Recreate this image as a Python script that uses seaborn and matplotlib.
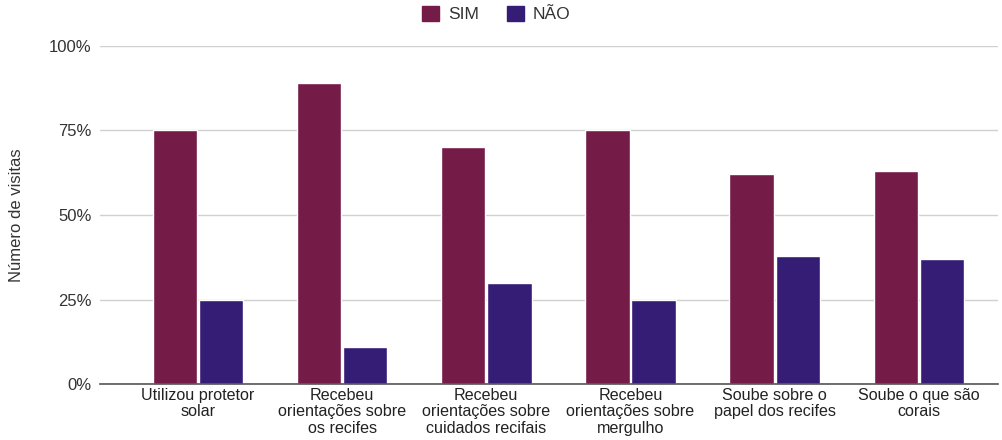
import matplotlib
matplotlib.use("Agg")
import matplotlib.pyplot as plt
import seaborn as sns
import pandas as pd
from matplotlib.ticker import PercentFormatter
from matplotlib.patches import Patch

categories = [
    "Utilizou protetor\nsolar",
    "Recebeu\norientações sobre\nos recifes",
    "Recebeu\norientações sobre\ncuidados recifais",
    "Recebeu\norientações sobre\nmergulho",
    "Soube sobre o\npapel dos recifes",
    "Soube o que são\ncorais",
]
sim = [75, 89, 70, 75, 62, 63]
nao = [25, 11, 30, 25, 38, 37]
series = ["SIM", "NÃO"]
colors = ["#741b47", "#351c75"]

df = pd.DataFrame({
    "categoria": categories * 2,
    "resposta": [series[0]] * len(categories) + [series[1]] * len(categories),
    "valor": [v / 100 for v in sim + nao],
})

sns.set_theme(style="white")
plt.rcParams["font.family"] = ["Liberation Sans", "DejaVu Sans"]

fig = plt.figure(figsize=(10.03, 4.4), dpi=100)
ax = fig.add_axes([100 / 1003, 56 / 440, 898 / 1003, 338 / 440])

sns.barplot(data=df, x="categoria", y="valor", hue="resposta",
            hue_order=series, palette=colors, width=0.64, gap=0.04,
            saturation=1, legend=False, ax=ax, zorder=3)

ax.set_ylim(0, 1.0)
ax.set_xlim(-0.68, 5.55)
ax.set_yticks([0, 0.25, 0.5, 0.75, 1.0])
ax.yaxis.set_major_formatter(PercentFormatter(1.0, decimals=0))
ax.grid(axis="y", color="#d0d0d0", linewidth=1, zorder=0)
for s in ["top", "right", "left"]:
    ax.spines[s].set_visible(False)
ax.spines["bottom"].set_color("#555555")
ax.spines["bottom"].set_linewidth(1.2)
ax.spines["bottom"].set_zorder(4)
ax.tick_params(axis="y", length=0, pad=6, labelsize=12, labelcolor="#333333")
ax.tick_params(axis="x", length=0, pad=3, labelsize=11.6, labelcolor="#222222")
for lab in ax.get_xticklabels():
    lab.set_linespacing(1.1)
    lab.set_horizontalalignment("center")
ax.set_xlabel("")
ax.set_ylabel("Número de visitas", fontsize=12, color="#333333", labelpad=18)

handles = [Patch(facecolor=c, edgecolor=c) for c in colors]
fig.legend(handles, series, loc="center", bbox_to_anchor=(496 / 1003, 1 - 14 / 440),
           ncol=2, frameon=False, fontsize=12.5, handlelength=1.0, handleheight=1.0,
           columnspacing=1.6, handletextpad=0.5, labelcolor="#333333")

fig.savefig("out.png", dpi=100)
